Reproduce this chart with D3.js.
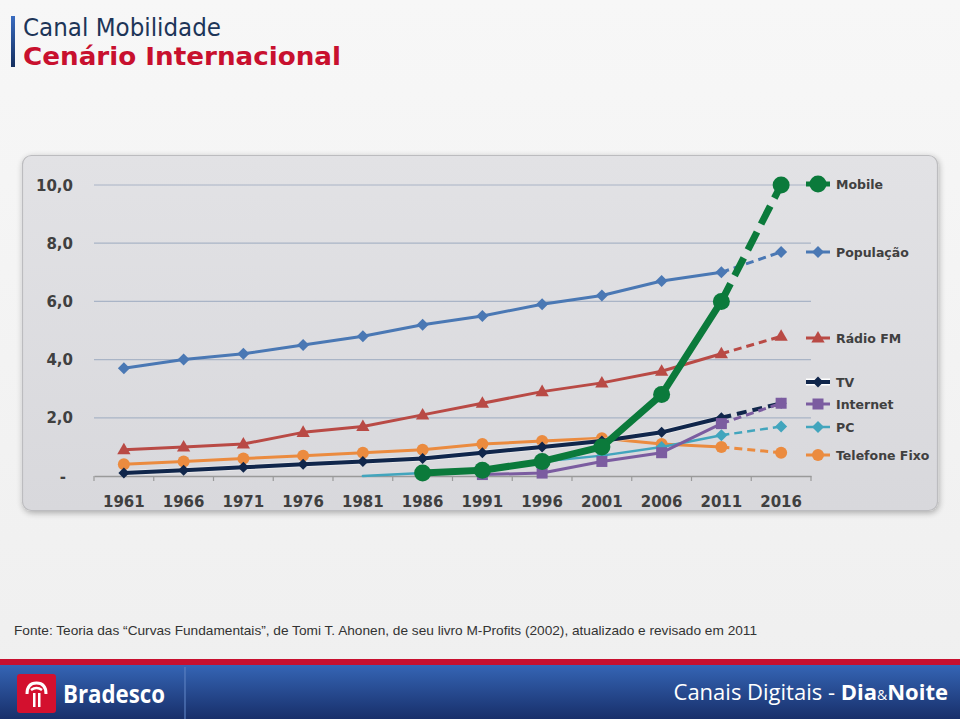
<!DOCTYPE html>
<html><head><meta charset="utf-8">
<script src="https://cdn.jsdelivr.net/npm/d3@7"></script>
<style>
html,body{margin:0;padding:0;background:#f3f3f3;}
svg{display:block;}
</style></head>
<body>
<svg id="chart" width="960" height="719"></svg>
<script>
// ---- data ----
const years = ["1961","1966","1971","1976","1981","1986","1991","1996","2001","2006","2011","2016"];
const yTicks = [0, 2, 4, 6, 8, 10];
const populacao = [3.7, 4.0, 4.2, 4.5, 4.8, 5.2, 5.5, 5.9, 6.2, 6.7, 7.0, 7.7];
const radioFM   = [0.9, 1.0, 1.1, 1.5, 1.7, 2.1, 2.5, 2.9, 3.2, 3.6, 4.2, 4.8];
const telefoneFixo = [0.4, 0.5, 0.6, 0.7, 0.8, 0.9, 1.1, 1.2, 1.3, 1.1, 1.0, 0.8];
const pc        = [null, null, null, null, 0.0, 0.1, 0.25, 0.5, 0.7, 1.0, 1.4, 1.7];
const internet  = [null, null, null, null, null, null, 0.05, 0.1, 0.5, 0.8, 1.8, 2.5];
const tv        = [0.1, 0.2, 0.3, 0.4, 0.5, 0.6, 0.8, 1.0, 1.2, 1.5, 2.0, 2.5];
const mobile    = [null, null, null, null, null, 0.1, 0.2, 0.5, 1.0, 2.8, 6.0, 10.0];
const forecastFrom = "2011"; // last segment (2011 -> 2016) is a projection
const title1 = "Canal Mobilidade";
const title2 = "Cenário Internacional";
const sourceText = "Fonte: Teoria das \u201cCurvas Fundamentais\u201d, de Tomi T. Ahonen, de seu livro M-Profits (2002), atualizado e revisado em 2011";

// ---- series styling (draw order) ----
const series = [
  {name:"População", values:populacao, color:"#4a78b4", width:3, marker:"diamond", size:6, dash:"8,5", legendY:252},
  {name:"Rádio FM", values:radioFM, color:"#b94a45", width:3, marker:"triangle", size:7, dash:"8,5", legendY:338},
  {name:"Telefone Fixo", values:telefoneFixo, color:"#eb8b3f", width:3, marker:"circle", size:6, dash:"8,5", legendY:455},
  {name:"PC", values:pc, color:"#42a5bd", width:2.5, marker:"diamond", size:6, dash:"8,5", legendY:427},
  {name:"TV", values:tv, color:"#10264b", width:4, marker:"diamond", size:5.5, dash:"10,6", legendY:382, halo:true},
  {name:"Internet", values:internet, color:"#7b5ca0", width:3, marker:"square", size:5.5, dash:"8,5", legendY:404},
  {name:"Mobile", values:mobile, color:"#0b7a3b", width:7, marker:"circle", size:8.5, dash:"20,9", legendY:184}
];

const svg = d3.select("#chart");
const defs = svg.append("defs");

// page background
const bg = defs.append("linearGradient").attr("id","bg").attr("x1",0).attr("y1",0).attr("x2",0).attr("y2",1);
bg.append("stop").attr("offset","0%").attr("stop-color","#f7f7f7");
bg.append("stop").attr("offset","100%").attr("stop-color","#efefef");
svg.append("rect").attr("width",960).attr("height",719).attr("fill","url(#bg)");

// title
const barG = defs.append("linearGradient").attr("id","bar").attr("x1",0).attr("y1",0).attr("x2",0).attr("y2",1);
barG.append("stop").attr("offset","0%").attr("stop-color","#3a6cc0");
barG.append("stop").attr("offset","100%").attr("stop-color","#142e5e");
svg.append("rect").attr("x",11).attr("y",16).attr("width",4).attr("height",51).attr("fill","url(#bar)");
svg.append("text").attr("x",23).attr("y",36).attr("font-family","'DejaVu Sans', Verdana, sans-serif")
  .attr("font-size",25).attr("fill","#1d3558").attr("textLength",198).attr("lengthAdjust","spacingAndGlyphs").text(title1);
svg.append("text").attr("x",23).attr("y",65).attr("font-family","'DejaVu Sans', Verdana, sans-serif")
  .attr("font-weight","bold").attr("font-size",25).attr("fill","#c8102e").attr("textLength",318).attr("lengthAdjust","spacingAndGlyphs").text(title2);

// panel
const sh = defs.append("filter").attr("id","shadow").attr("x","-5%").attr("y","-5%").attr("width","110%").attr("height","115%");
sh.append("feGaussianBlur").attr("in","SourceAlpha").attr("stdDeviation",3);
sh.append("feOffset").attr("dx",1).attr("dy",2).attr("result","b");
sh.append("feComponentTransfer").append("feFuncA").attr("type","linear").attr("slope",0.3);
const fm = sh.append("feMerge"); fm.append("feMergeNode"); fm.append("feMergeNode").attr("in","SourceGraphic");
const pg = defs.append("linearGradient").attr("id","panel").attr("x1",0).attr("y1",0).attr("x2",0).attr("y2",1);
pg.append("stop").attr("offset","0%").attr("stop-color","#e2e2e5");
pg.append("stop").attr("offset","100%").attr("stop-color","#d8d8dc");
svg.append("rect").attr("x",22.5).attr("y",155.5).attr("width",915).attr("height",355).attr("rx",9)
  .attr("fill","url(#panel)").attr("stroke","#bcbcbf").attr("stroke-width",1.2).attr("filter","url(#shadow)");

// scales
const x = d3.scaleBand().domain(years).range([94, 811]).padding(0);
const cx = d => x(d) + x.bandwidth()/2;
const y = d3.scaleLinear().domain([0, 10]).range([476, 185]);

// gridlines
svg.append("g").selectAll("line").data(yTicks.filter(t => t > 0)).join("line")
  .attr("x1",94).attr("x2",811).attr("y1",d=>y(d)).attr("y2",d=>y(d))
  .attr("stroke","#a9b4c6").attr("stroke-width",1.2);

// y axis labels
const fmt = d => d === 0 ? "-" : d.toFixed(1).replace(".", ",");
svg.append("g").selectAll("text").data(yTicks).join("text")
  .attr("x", d => d === 0 ? 66 : 73).attr("y", d => y(d) + 5.5)
  .attr("text-anchor","end").attr("font-family","'DejaVu Sans', Verdana, sans-serif")
  .attr("font-weight","bold").attr("font-size",15).attr("fill","#404040").text(fmt);

// x axis
const xAxis = d3.axisBottom(x).tickSize(0).tickFormat(d => d);
const gx = svg.append("g").attr("transform","translate(0,476)").call(xAxis);
gx.select(".domain").attr("stroke","#9a9a9a").attr("stroke-width",1.5);
gx.selectAll(".tick text").attr("dy",0).attr("y",31).attr("font-family","'DejaVu Sans', Verdana, sans-serif")
  .attr("font-weight","bold").attr("font-size",15).attr("fill","#404040");
// tick marks at category boundaries
const bounds = years.map(d => x(d)).concat([x(years[years.length-1]) + x.bandwidth()]);
svg.append("g").selectAll("line").data(bounds).join("line")
  .attr("x1",d=>d).attr("x2",d=>d).attr("y1",476).attr("y2",481)
  .attr("stroke","#9a9a9a").attr("stroke-width",1.2);

// marker path generator
function markerPath(type, s){
  if(type==="diamond") return `M0,${-s}L${s},0L0,${s}L${-s},0Z`;
  if(type==="triangle") return `M0,${-s}L${s*0.95},${s*0.65}L${-s*0.95},${s*0.65}Z`;
  if(type==="square") return `M${-s},${-s}H${s}V${s}H${-s}Z`;
  return d3.symbol().type(d3.symbolCircle).size(Math.PI*s*s)();
}

const line = d3.line().defined(p => p.v !== null).x(p => cx(p.year)).y(p => y(p.v));
const fIdx = years.indexOf(forecastFrom);

series.forEach(s => {
  const pts = years.map((yr,i) => ({year:yr, v:s.values[i]}));
  const solid = pts.slice(0, fIdx + 1);
  const proj = pts.slice(fIdx);
  const g = svg.append("g");
  if (s.halo) {
    g.append("path").attr("d", line(solid)).attr("fill","none").attr("stroke","#ffffff").attr("stroke-opacity",0.35)
      .attr("stroke-width", s.width + 2).attr("stroke-linejoin","round");
  }
  g.append("path").attr("d", line(solid)).attr("fill","none").attr("stroke", s.color)
    .attr("stroke-width", s.width).attr("stroke-linejoin","round").attr("stroke-linecap","round");
  g.append("path").attr("d", line(proj)).attr("fill","none").attr("stroke", s.color)
    .attr("stroke-width", s.width).attr("stroke-dasharray", s.dash);
  g.selectAll(".m").data(pts.filter(p => p.v !== null && p.v > 0)).join("path")
    .attr("transform", p => `translate(${cx(p.year)},${y(p.v)})`)
    .attr("d", markerPath(s.marker, s.size)).attr("fill", s.color);

  // legend
  const lg = svg.append("g").attr("transform", `translate(806,${s.legendY})`);
  if (s.halo) lg.append("line").attr("x1",0).attr("x2",24).attr("stroke","#ffffff").attr("stroke-width",s.width+3);
  lg.append("line").attr("x1",0).attr("x2",24).attr("stroke", s.color).attr("stroke-width", Math.min(s.width, 5));
  lg.append("path").attr("transform","translate(12,0)").attr("d", markerPath(s.marker, s.size)).attr("fill", s.color);
  lg.append("text").attr("x",30).attr("y",4.5).attr("font-family","'DejaVu Sans', Verdana, sans-serif")
    .attr("font-weight","bold").attr("font-size",12.5).attr("fill","#404040").text(s.name);
});

// source
svg.append("text").attr("x",14).attr("y",635).attr("font-family","'Liberation Sans Narrow','Liberation Sans', Arial, sans-serif")
  .attr("font-size",13).attr("fill","#333").attr("textLength",743).attr("lengthAdjust","spacingAndGlyphs").text(sourceText);

// footer
svg.append("rect").attr("x",0).attr("y",659).attr("width",960).attr("height",6).attr("fill","#c8102e");
const fg = defs.append("linearGradient").attr("id","foot").attr("x1",0).attr("y1",0).attr("x2",0).attr("y2",1);
fg.append("stop").attr("offset","0%").attr("stop-color","#3565b5");
fg.append("stop").attr("offset","100%").attr("stop-color","#182f6a");
svg.append("rect").attr("x",0).attr("y",665).attr("width",960).attr("height",54).attr("fill","url(#foot)");
svg.append("line").attr("x1",185).attr("x2",185).attr("y1",667).attr("y2",719).attr("stroke","#5a7fc0").attr("stroke-width",1.2);
// logo
svg.append("rect").attr("x",17).attr("y",674).attr("width",39).attr("height",39).attr("rx",3).attr("fill","#d3102e");
svg.append("path").attr("d","M27,694 Q27,683 36.5,683 Q46,683 46,694").attr("fill","none").attr("stroke","#fff").attr("stroke-width",3);
svg.append("path").attr("d","M31,690 Q36.5,686 42,690").attr("fill","none").attr("stroke","#fff").attr("stroke-width",2.5);
svg.append("rect").attr("x",33).attr("y",693).attr("width",2.5).attr("height",14).attr("fill","#fff");
svg.append("rect").attr("x",38).attr("y",693).attr("width",2.5).attr("height",14).attr("fill","#fff");
svg.append("text").attr("x",63).attr("y",703).attr("font-family","'Open Sans', sans-serif").attr("font-weight","bold")
  .attr("font-size",25).attr("fill","#fff").attr("textLength",102).attr("lengthAdjust","spacingAndGlyphs").text("Bradesco");
const ft = svg.append("text").attr("x",948).attr("y",700).attr("text-anchor","end")
  .attr("font-family","'Open Sans', sans-serif").attr("font-size",22).attr("fill","#fff");
ft.append("tspan").text("Canais Digitais - ");
ft.append("tspan").attr("font-weight","bold").text("Dia");
ft.append("tspan").attr("font-size",14).text("&");
ft.append("tspan").attr("font-weight","bold").text("Noite");
</script>
</body></html>
